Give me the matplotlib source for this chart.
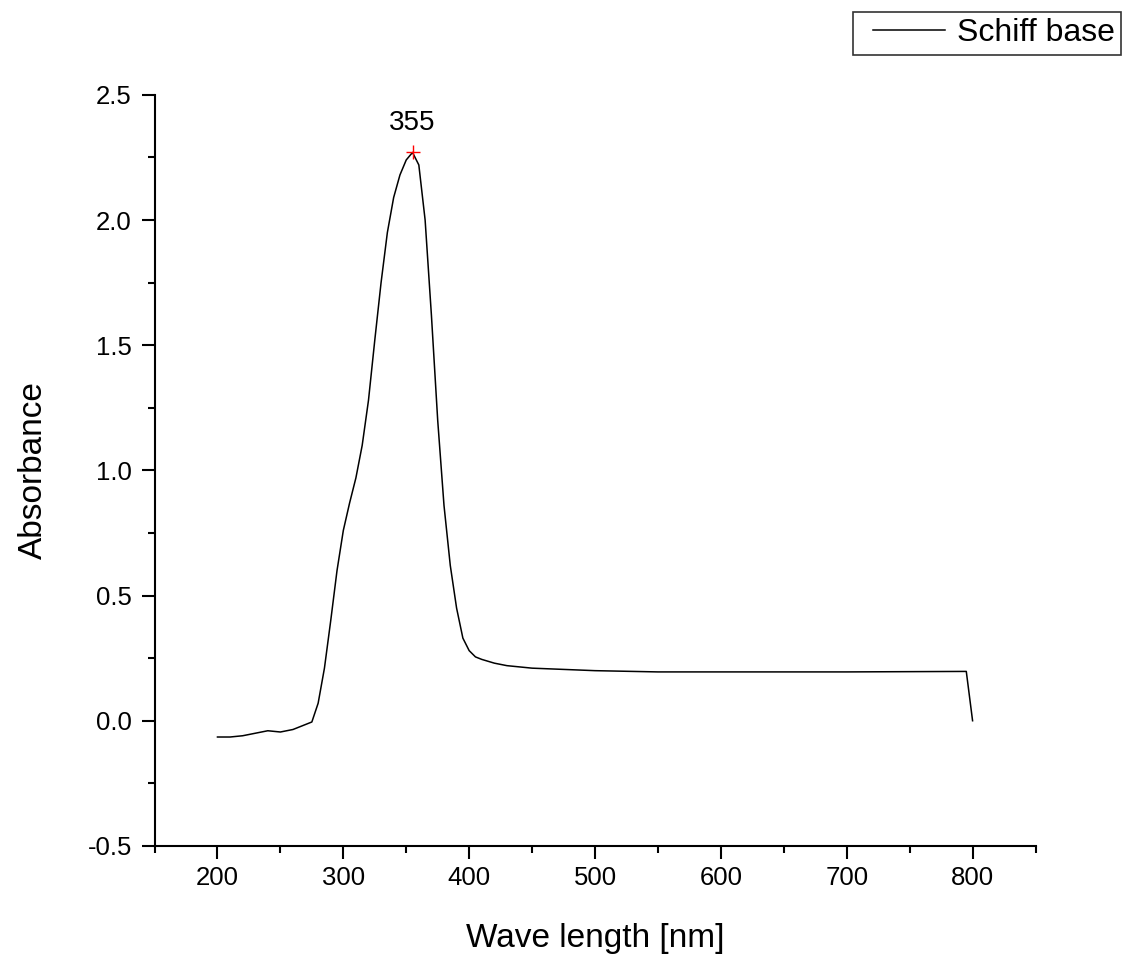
import matplotlib
matplotlib.use('Agg')
import matplotlib.pyplot as plt
from matplotlib.ticker import MultipleLocator, FormatStrFormatter
from matplotlib.legend_handler import HandlerLine2D

plt.rcParams['font.family'] = ['Liberation Sans', 'DejaVu Sans']

# UV-Vis spectrum
wavelength = [200, 210, 220, 230, 240, 250, 260, 270, 275, 280, 285, 290, 295,
              300, 305, 310, 315, 320, 325, 330, 335, 340, 345, 350, 355, 360,
              365, 370, 375, 380, 385, 390, 395, 400, 405, 410, 420, 430, 450,
              500, 550, 600, 700, 795, 800]
absorbance = [-0.065, -0.065, -0.06, -0.05, -0.04, -0.045, -0.035, -0.015, -0.005,
              0.07, 0.21, 0.4, 0.6, 0.76, 0.87, 0.97, 1.1, 1.28, 1.52, 1.75,
              1.95, 2.09, 2.18, 2.24, 2.27, 2.22, 2.0, 1.62, 1.2, 0.86, 0.62,
              0.45, 0.33, 0.28, 0.255, 0.245, 0.23, 0.22, 0.21, 0.2, 0.195,
              0.195, 0.195, 0.197, 0.0]
peak_x = 355
peak_y = 2.27
series_name = 'Schiff base'

fig = plt.figure(figsize=(11.28, 9.58), dpi=100)
ax = fig.add_axes([0.137, 0.117, 0.781, 0.784])

line, = ax.plot(wavelength, absorbance, color='black', lw=1.1)
ax.plot([peak_x], [peak_y], marker='+', color='red', ms=10, mew=1.0, ls='none')
ax.annotate(str(peak_x), (peak_x, peak_y), xytext=(0, 12), textcoords='offset points',
            ha='center', va='bottom', fontsize=20)

ax.set_xlim(150, 850)
ax.set_ylim(-0.5, 2.5)
ax.xaxis.set_minor_locator(MultipleLocator(50))
ax.yaxis.set_major_locator(MultipleLocator(0.5))
ax.yaxis.set_minor_locator(MultipleLocator(0.25))
ax.yaxis.set_major_formatter(FormatStrFormatter('%.1f'))
ax.set_xticks([200, 300, 400, 500, 600, 700, 800])

for s in ['top', 'right']:
    ax.spines[s].set_visible(False)
for s in ['left', 'bottom']:
    ax.spines[s].set_linewidth(1.5)

ax.tick_params(which='major', direction='out', length=9.4, width=1.5, labelsize=18.5)
ax.tick_params(which='minor', direction='out', length=5, width=1.5)
ax.tick_params(axis='x', which='major', pad=5)
ax.tick_params(axis='y', which='major', pad=7)

ax.set_xlabel('Wave length [nm]', fontsize=24, labelpad=24)
ax.set_ylabel('Absorbance', fontsize=24, labelpad=28)

leg = fig.legend([line], [series_name], loc='upper left',
                 bbox_to_anchor=(853 / 1128, 1 - 12 / 958),
                 fontsize=23, frameon=True, fancybox=False, edgecolor='black',
                 handlelength=2.68, handletextpad=0.37, borderpad=0.2,
                 borderaxespad=0, handler_map={line: HandlerLine2D(xpad=0.43)})
leg.get_frame().set_linewidth(1.2)

fig.savefig('out.png', dpi=100)
